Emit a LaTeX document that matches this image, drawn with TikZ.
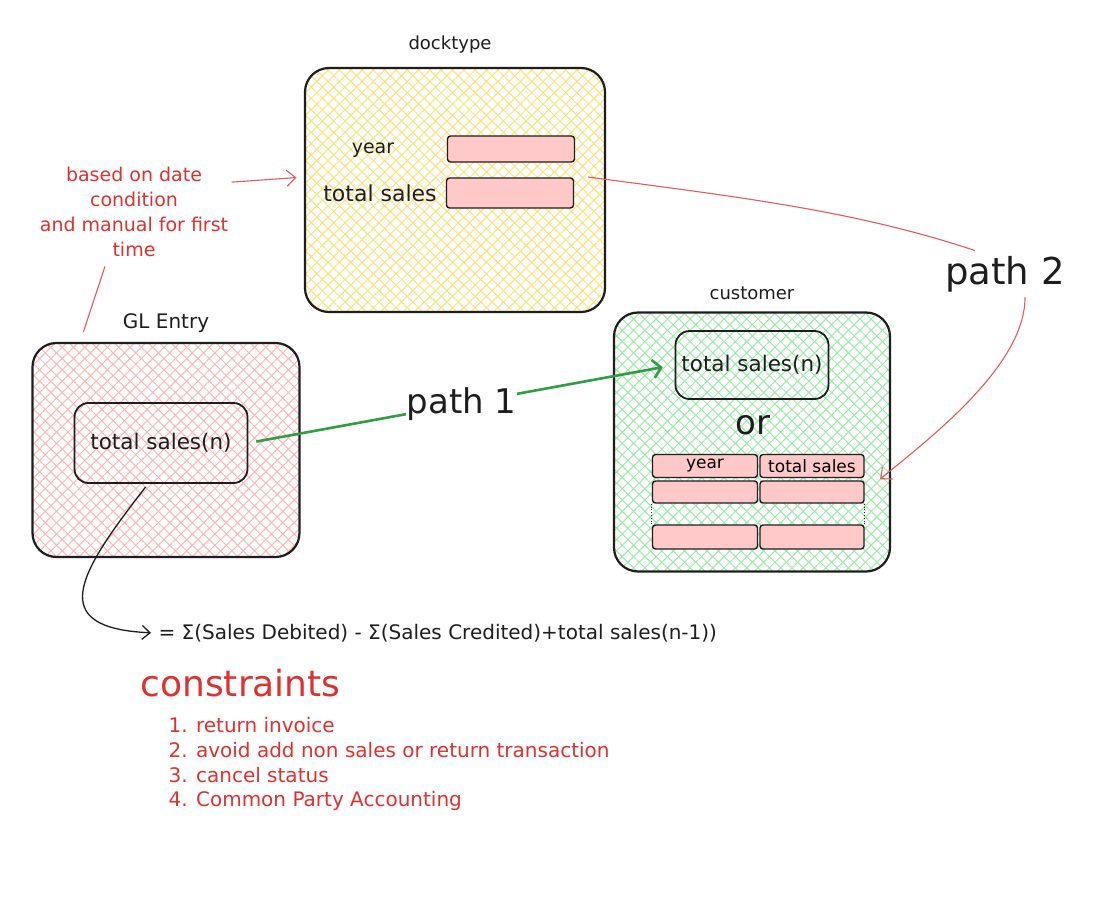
\documentclass[tikz,border=0pt]{standalone}
\usepackage{fontspec}
\setmainfont{DejaVu Sans}
\usetikzlibrary{arrows.meta,positioning,patterns.meta}
\definecolor{inkBlack}{HTML}{1E1E1E}
\definecolor{noteRed}{HTML}{E03131}
\definecolor{pathGreen}{HTML}{2F9E44}
\definecolor{hatchYellow}{HTML}{FFE27A}
\definecolor{hatchPink}{HTML}{FFB8B8}
\definecolor{hatchGreen}{HTML}{9CEBA8}
\definecolor{fieldPink}{HTML}{FFC9C9}
\newcommand\fsz[1]{\fontsize{#1}{#1}\selectfont}

\begin{document}
\begin{tikzpicture}[x=1pt, y=-1pt,
  box/.style={draw=inkBlack, line width=2.2pt, rounded corners=24pt,
              pattern={Hatch[angle=45,distance=8pt,line width=1pt]},
              pattern color=#1},
  inbox/.style={draw=inkBlack, line width=1.8pt, rounded corners=14pt,
                font=\fsz{21.5}, text=inkBlack},
  field/.style={draw=inkBlack, line width=1.4pt, fill=fieldPink,
                rounded corners=3pt, inner sep=0pt, font=\fsz{17}},
  tag/.style={font=\fsz{18}, text=inkBlack},
  redline/.style={noteRed!80, line width=1.1pt},
  redarr/.style={redline, -{Straight Barb[length=9pt,width=16pt]}},
  greenarr/.style={pathGreen, line width=2.6pt,
                   -{Straight Barb[length=8pt,width=18pt]}},
  blackarr/.style={inkBlack, line width=1.3pt,
                   -{Straight Barb[length=8pt,width=14pt]}}
]
  \fill[white] (0,0) rectangle (1099,896);
  \useasboundingbox (0,0) rectangle (1099,896);

  % docktype
  \node[tag] (dtlabel) at (450,45) {docktype};
  \node[box=hatchYellow, minimum width=300pt, minimum height=244pt]
    (dt) at (455,190) {};
  \node[field, minimum width=127pt, minimum height=26pt] (yfield) at (511,149) {};
  \node[field, minimum width=127pt, minimum height=30pt] (tsfield) at (510,193) {};
  \node[tag, font=\fsz{19}] (ylabel) at (373,150) {year};
  \node[tag, font=\fsz{22}] (tslabel) at (380,193) {total sales};

  % GL Entry
  \node[tag, font=\fsz{20}] (gllabel) at (166,323) {GL Entry};
  \node[box=hatchPink, minimum width=267pt, minimum height=214pt]
    (gl) at (166,450) {};
  \node[inbox, minimum width=173pt, minimum height=80pt]
    (glin) at (161,443) {total sales(n)};

  % customer
  \node[tag] (custlabel) at (752,293) {customer};
  \node[box=hatchGreen, minimum width=276pt, minimum height=259pt]
    (cust) at (752,442) {};
  \node[inbox, minimum width=153pt, minimum height=68pt]
    (custin) at (752,365) {total sales(n)};
  \node[font=\fsz{34}, text=inkBlack] (orlabel) at (753,425) {or};
  \node[field, minimum width=105pt, minimum height=23pt] (rowaa) at (705,466) {year};
  \node[field, minimum width=104pt, minimum height=23pt] (rowab) at (812,466) {total sales};
  \node[field, minimum width=105pt, minimum height=22pt] (rowba) at (705,492) {};
  \node[field, minimum width=104pt, minimum height=22pt] (rowbb) at (812,492) {};
  \node[field, minimum width=105pt, minimum height=24pt] (rowca) at (705,537) {};
  \node[field, minimum width=104pt, minimum height=24pt] (rowcb) at (812,537) {};
  \draw[inkBlack, dotted, thick] (rowba.south west) -- (rowca.north west);
  \draw[inkBlack, dotted, thick] (rowbb.south east) -- (rowcb.north east);

  % notes
  \node[align=center, text=noteRed, font=\fontsize{19}{25}\selectfont]
    (note) at (134,212) {based on date\\condition\\and manual for first\\time};
  \draw[redarr, shorten >=8pt] (note.17) -- ([yshift=13pt]dt.west);
  \draw[redline] ([xshift=-29pt,yshift=-6pt]note.south)
    -- ([xshift=52pt,yshift=10pt]gl.north west);

  % path 1
  \draw[greenarr, shorten <=8pt, shorten >=12pt] (glin.east)
    -- node[fill=white, inner sep=1pt, font=\fsz{34}, text=inkBlack] (path1) {path 1}
    (custin.west);

  % path 2
  \node[font=\fsz{37}, text=inkBlack] (path2) at (1005,274) {path 2};
  \draw[redline] ([xshift=14pt,yshift=16pt]tsfield.east)
    .. controls +(150,20) and +(-120,-40) .. ([xshift=-30pt,yshift=2pt]path2.north);
  \draw[redarr, shorten >=20pt] ([xshift=20pt,yshift=-2pt]path2.south)
    .. controls +(0,70) and +(60,-50) .. (rowbb.east);

  % formula
  \node[anchor=west, font=\fsz{20}, text=inkBlack] (formula) at (155,633)
    {= Σ(Sales Debited) - Σ(Sales Credited)+total sales(n-1))};
  \draw[blackarr, shorten <=4pt, shorten >=4pt] ([xshift=-13pt]glin.south)
    .. controls +(-70,90) and +(-110,-5) .. (formula.west);

  % constraints
  \node[anchor=west, font=\fsz{36}, text=noteRed] (constr) at (137,683) {constraints};
  \node[anchor=north west, align=left, text=noteRed,
        font=\fontsize{20}{24.7}\selectfont] (clist) at (165,714)
    {1. return invoice\\2. avoid add non sales or return transaction\\3. cancel status\\4. Common Party Accounting};
\end{tikzpicture}
\end{document}
